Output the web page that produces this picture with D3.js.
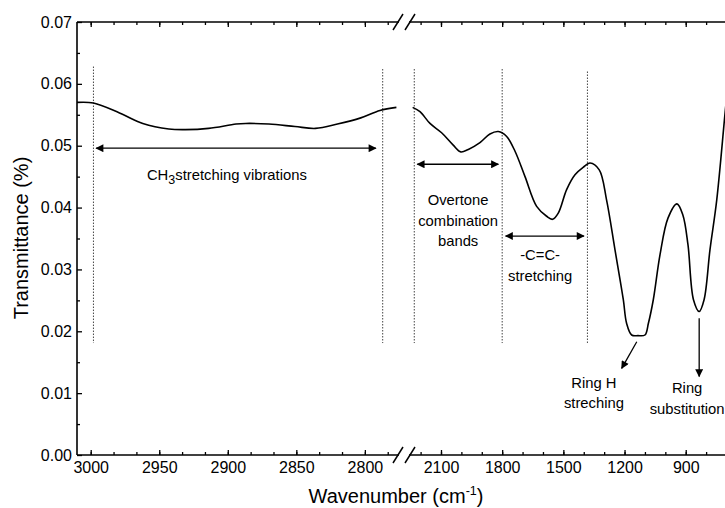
<!DOCTYPE html>
<html>
<head>
<meta charset="utf-8">
<script src="https://cdn.jsdelivr.net/npm/d3@7"></script>
<style>
body { margin: 0; background: #fff; }
svg text { font-family: "Liberation Sans", Arial, sans-serif; fill: #000; }
</style>
</head>
<body>
<div id="chart"></div>
<script>
'use strict';

// spectrum, left block of the broken axis (3010 - 2770 cm-1)
var leftWave  = [3010, 2998, 2979, 2962, 2943, 2931, 2914, 2894, 2887, 2870, 2851, 2836, 2820, 2803, 2789, 2777];
var leftTrans = [0.0570, 0.0569, 0.0553, 0.0536, 0.0527, 0.0526, 0.0528, 0.0535, 0.0536, 0.0535, 0.0531, 0.0528, 0.0535, 0.0545, 0.0557, 0.0562];

// spectrum, right block (2200 - 500 cm-1)
var rightWave  = [2239, 2203, 2154, 2097, 2040, 2003, 1966, 1909, 1860, 1819, 1778, 1737, 1688, 1631, 1582, 1553, 1525, 1484, 1443, 1403, 1369,
                  1324, 1288, 1247, 1206, 1190, 1165, 1134, 1100, 1083, 1059, 1026, 987, 943, 914, 889, 862, 834, 810, 781, 748, 707, 683];
var rightTrans = [0.0562, 0.0555, 0.0536, 0.0521, 0.0501, 0.0490, 0.0494, 0.0505, 0.0519, 0.0523, 0.0515, 0.0491, 0.0450, 0.0402, 0.0386, 0.0381, 0.0391, 0.0429, 0.0453, 0.0465, 0.0472,
                  0.0461, 0.0412, 0.0332, 0.0251, 0.0213, 0.0194, 0.0193, 0.0194, 0.0213, 0.0251, 0.0324, 0.0383, 0.0406, 0.0388, 0.0340, 0.0251, 0.0232, 0.0251, 0.0332, 0.0412, 0.0553, 0.0634];

var yMajor = [0, 0.01, 0.02, 0.03, 0.04, 0.05, 0.06, 0.07];
var leftMajor = [3000, 2950, 2900, 2850, 2800];
var rightMajor = [2100, 1800, 1500, 1200, 900];

// dotted band limits: [block, wavenumber, top, bottom]
var bandLines = [['L', 2998, 0.0628, 0.0181], ['L', 2787, 0.0624, 0.0181], ['R', 2231, 0.0624, 0.0181],
                 ['R', 1800, 0.0624, 0.0181], ['R', 1382, 0.0620, 0.0181]];

// arrows: [block, x1, y1, x2, y2, double headed]
var arrows = [['L', 2996, 0.0496, 2792, 0.0496, true], ['R', 2216, 0.0470, 1819, 0.0470, true],
              ['R', 1783, 0.0354, 1399, 0.0354, true], ['R', 1140, 0.0183, 1214, 0.0140, false],
              ['R', 834, 0.0221, 834, 0.0127, false]];

// labels: [block, wavenumber, transmittance, anchor, lines]
var labels = [['L', 2959, 0.0445, 'start', ['CH_3stretching vibrations']],
              ['R', 2016, 0.0404, 'middle', ['Overtone', 'combination', 'bands']],
              ['R', 1614, 0.0315, 'middle', ['-C=C-', 'stretching']],
              ['R', 1350, 0.0109, 'middle', ['Ring H', 'streching']],
              ['R', 893, 0.0100, 'middle', ['Ring', 'substitution']]];

var chart = {};
chart.width = 725;
chart.height = 508;
chart.top = 22;
chart.bottom = 455;
chart.left = 77;

chart.y = d3.scaleLinear().domain([0, 0.07]).range([chart.bottom, chart.top]);
chart.xl = d3.scaleLinear().domain([3010, 2770]).range([77, 406]);
chart.xr = d3.scaleLinear().domain([2200, 500]).range([420.6, 767.3]);

chart.scale = function(block) {
    return block === 'L' ? chart.xl : chart.xr;
};

chart.appendSvg = function(div) {
    var svg = d3.select(div).append('svg')
        .attr('width', chart.width)
        .attr('height', chart.height);

    svg.append('defs').append('marker')
        .attr('id', 'head')
        .attr('viewBox', '0 0 10 10')
        .attr('refX', 9).attr('refY', 5)
        .attr('markerWidth', 9).attr('markerHeight', 8)
        .attr('markerUnits', 'userSpaceOnUse')
        .attr('orient', 'auto-start-reverse')
        .append('path')
        .attr('d', 'M0,0 L10,5 L0,10 z')
        .attr('fill', '#000');
    return svg;
};

chart.tickAxis = function(svg, axis, scale, values, size, format, pos, pad) {
    var a = axis(scale).tickValues(values).tickSizeInner(-size).tickSizeOuter(0)
        .tickPadding(pad || 3).tickFormat(format || '');
    var g = svg.append('g').attr('transform', pos).call(a);
    g.select('.domain').remove();
    g.selectAll('line').attr('stroke', '#000').attr('stroke-width', 1.3);
    g.selectAll('text').attr('font-size', 16);
    return g;
};

chart.drawAxes = function(svg) {
    var y = chart.y, xl = chart.xl, xr = chart.xr;
    var leftMinor = d3.range(3000, 2775, -50 / 3);
    var rightMinor = d3.range(2200, 500, -100);
    var yMinor = d3.range(0.005, 0.07, 0.01);

    var bottom = 'translate(0,' + chart.bottom + ')';
    var top = 'translate(0,' + chart.top + ')';
    var lx = 'translate(' + chart.left + ',0)';

    [[xl, leftMajor, leftMinor], [xr, rightMajor, rightMinor]].forEach(function(s) {
        chart.tickAxis(svg, d3.axisBottom, s[0], s[1], 5, d3.format('d'), bottom, 7);
        chart.tickAxis(svg, d3.axisBottom, s[0], s[2], 3, null, bottom);
        chart.tickAxis(svg, d3.axisTop, s[0], s[1], 5, null, top);
        chart.tickAxis(svg, d3.axisTop, s[0], s[2], 3, null, top);
    });

    chart.tickAxis(svg, d3.axisLeft, y, yMajor, 5, d3.format('.2f'), lx, 5);
    chart.tickAxis(svg, d3.axisLeft, y, yMinor, 3, null, lx);

    // frame lines
    [[chart.left, chart.bottom, chart.width, chart.bottom],
     [chart.left, chart.top, chart.width, chart.top],
     [chart.left, chart.top, chart.left, chart.bottom]].forEach(function(l) {
        svg.append('line').attr('x1', l[0]).attr('y1', l[1]).attr('x2', l[2]).attr('y2', l[3])
            .attr('stroke', '#000').attr('stroke-width', 1.6);
    });

    // axis break marks
    var bx = xl.range()[1] - 2;
    [chart.top, chart.bottom].forEach(function(yy) {
        svg.append('rect').attr('x', bx - 5).attr('y', yy - 2).attr('width', 10).attr('height', 4)
            .attr('fill', '#fff');
        [bx - 6, bx + 6].forEach(function(cx) {
            svg.append('line')
                .attr('x1', cx - 5).attr('y1', yy + 8)
                .attr('x2', cx + 5).attr('y2', yy - 8)
                .attr('stroke', '#000').attr('stroke-width', 1.5);
        });
    });

    // titles
    var xt = svg.append('text').attr('x', 396).attr('y', 503)
        .attr('text-anchor', 'middle').attr('font-size', 20);
    xt.append('tspan').text('Wavenumber (cm');
    xt.append('tspan').attr('font-size', 12.5).attr('dy', -8).text('-1');
    xt.append('tspan').attr('dy', 8).text(')');

    svg.append('text')
        .attr('transform', 'translate(28,238) rotate(-90)')
        .attr('text-anchor', 'middle').attr('font-size', 20)
        .text('Transmittance (%)');
};

chart.drawSpectrum = function(svg) {
    var y = chart.y;
    [[chart.xl, leftWave, leftTrans], [chart.xr, rightWave, rightTrans]].forEach(function(s) {
        var line = d3.line()
            .x(function(d) { return s[0](d); })
            .y(function(d, i) { return y(s[2][i]); })
            .curve(d3.curveCatmullRom.alpha(0.5));
        svg.append('path')
            .attr('d', line(s[1]))
            .attr('fill', 'none')
            .attr('stroke', '#000')
            .attr('stroke-width', 1.6);
    });
};

chart.drawAnnotations = function(svg) {
    var y = chart.y;

    svg.selectAll('line.band').data(bandLines).enter().append('line')
        .attr('class', 'band')
        .attr('x1', function(d) { return chart.scale(d[0])(d[1]); })
        .attr('x2', function(d) { return chart.scale(d[0])(d[1]); })
        .attr('y1', function(d) { return y(d[2]); })
        .attr('y2', function(d) { return y(d[3]); })
        .attr('stroke', '#444')
        .attr('stroke-width', 1)
        .attr('stroke-dasharray', '1.5,1.5');

    svg.selectAll('line.arrow').data(arrows).enter().append('line')
        .attr('class', 'arrow')
        .attr('x1', function(d) { return chart.scale(d[0])(d[1]); })
        .attr('y1', function(d) { return y(d[2]); })
        .attr('x2', function(d) { return chart.scale(d[0])(d[3]); })
        .attr('y2', function(d) { return y(d[4]); })
        .attr('stroke', '#000')
        .attr('stroke-width', 1.3)
        .attr('marker-end', 'url(#head)')
        .attr('marker-start', function(d) { return d[5] ? 'url(#head)' : null; });

    labels.forEach(function(d) {
        var x = chart.scale(d[0])(d[1]);
        var t = svg.append('text')
            .attr('x', x)
            .attr('y', y(d[2]))
            .attr('text-anchor', d[3])
            .attr('font-size', 14.8);
        d[4].forEach(function(str, i) {
            if (str.indexOf('_') >= 0) {
                // subscript digit, e.g. CH_3
                var parts = str.split('_');
                t.append('tspan').attr('x', x).attr('dy', i ? 20.5 : 0).text(parts[0]);
                t.append('tspan').attr('font-size', 12.5).attr('dy', 4).text(parts[1].charAt(0));
                t.append('tspan').attr('dy', -4).text(parts[1].slice(1));
            } else {
                t.append('tspan').attr('x', x).attr('dy', i ? 20.5 : 0).text(str);
            }
        });
    });
};

chart.run = function() {
    var svg = chart.appendSvg('#chart');
    chart.drawAnnotations(svg);
    chart.drawSpectrum(svg);
    chart.drawAxes(svg);
};

chart.run();
</script>
</body>
</html>
